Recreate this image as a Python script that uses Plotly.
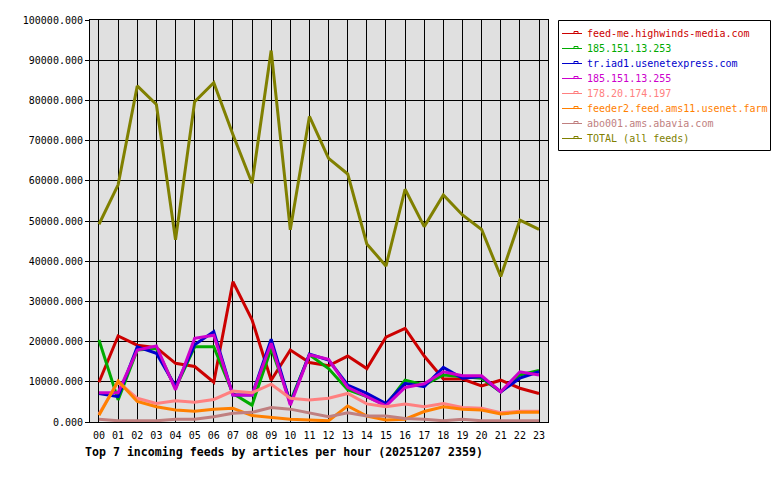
import plotly.graph_objects as go

hours = [f"{h:02d}" for h in range(24)]

feed_me = [9900, 21400, 19100, 18500, 14600, 13800, 9900, 34900, 25400, 10400, 17900, 14800,
           14000, 16400, 13300, 21100, 23300, 16400, 10700, 10700, 9000, 10400, 8400, 7100]
n185_253 = [20400, 5500, 17900, 18300, 8400, 18700, 18700, 7100, 4200, 18300, 5100, 16700,
            13300, 8000, 6300, 4200, 10400, 9200, 11700, 11300, 10900, 7500, 11700, 12800]
tr_iad1 = [7100, 6300, 18700, 17100, 8800, 19200, 22500, 6700, 6700, 20600, 4600, 16900,
           15400, 9200, 7100, 4600, 9600, 8800, 13600, 10900, 11300, 7500, 10900, 12500]
n185_255 = [7300, 7300, 17900, 18900, 8000, 20800, 21600, 6700, 6700, 19600, 4200, 16700,
            15600, 8600, 6300, 4000, 8600, 9500, 12500, 11500, 11500, 7500, 12500, 11700]
n178 = [2000, 10000, 5900, 4600, 5300, 4900, 5600, 7700, 7300, 9400, 5900, 5500,
        5900, 7100, 4500, 3800, 4500, 3800, 4600, 3600, 3400, 2300, 2700, 2700]
feeder2 = [1700, 10200, 5100, 3800, 3000, 2700, 3200, 3400, 1600, 1100, 700, 500,
           300, 4000, 1500, 500, 700, 2600, 3800, 3200, 3000, 2000, 2400, 2400]
abo001 = [700, 300, 300, 300, 700, 700, 1300, 2200, 2400, 3600, 3200, 2200,
          1300, 2300, 1500, 1500, 900, 700, 300, 700, 300, 300, 300, 300]
total = [49200, 59000, 83600, 79000, 45300, 79700, 84400, 71500, 59400, 92400, 47800, 76000,
         65600, 61700, 44300, 38800, 57900, 48600, 56500, 51500, 47900, 36200, 50200, 47900]

names = ["feed-me.highwinds-media.com", "185.151.13.253", "tr.iad1.usenetexpress.com",
         "185.151.13.255", "178.20.174.197", "feeder2.feed.ams11.usenet.farm",
         "abo001.ams.abavia.com", "TOTAL (all feeds)"]
series = [feed_me, n185_253, tr_iad1, n185_255, n178, feeder2, abo001, total]
colors = ["#cc0000", "#00aa00", "#0000cc", "#cc00cc", "#ff8080", "#ff8000", "#c08080", "#808000"]

# plot area in pixels
L, R, T, B = 90, 548, 20, 422
W, H = R - L, B - T


def px(x):
    return (x - L) / W


def py(y):
    return (B - y) / H


x_idx = list(range(24))
fig = go.Figure()
for name, vals, col in zip(names, series, colors):
    fig.add_trace(go.Scatter(x=x_idx, y=vals, mode="lines", name=name,
                             line=dict(color=col, width=3),
                             showlegend=False, hoverinfo="skip"))

font = "DejaVu Sans Mono, Liberation Mono, monospace"

# manual legend
shapes = [dict(type="rect", xref="paper", yref="paper",
               x0=px(558.5), x1=px(770.5), y0=py(20.5), y1=py(150.5),
               line=dict(color="black", width=1), fillcolor="white", layer="above")]
annotations = []
for i, (name, col) in enumerate(zip(names, colors)):
    yc = 33.5 + 15 * i
    shapes.append(dict(type="line", xref="paper", yref="paper",
                       x0=px(562), x1=px(582), y0=py(yc), y1=py(yc),
                       line=dict(color=col, width=1), layer="above"))
    shapes.append(dict(type="rect", xref="paper", yref="paper",
                       x0=px(574), x1=px(578), y0=py(yc), y1=py(yc - 2),
                       line=dict(color=col, width=1), layer="above"))
    annotations.append(dict(text=name, xref="paper", yref="paper", x=px(585), xanchor="left",
                            y=py(yc), yanchor="middle", showarrow=False,
                            font=dict(family=font, size=10, color=col)))

annotations.append(dict(text="<b>Top 7 incoming feeds by articles per hour (20251207 2359)</b>",
                        xref="paper", yref="paper", x=px(83), xanchor="left",
                        y=py(452), yanchor="middle", showarrow=False,
                        font=dict(family=font, size=11.6, color="black")))

fig.update_layout(
    width=780, height=480,
    margin=dict(l=L, r=780 - R, t=T, b=480 - B),
    paper_bgcolor="white", plot_bgcolor="#e0e0e0",
    font=dict(family=font, size=10, color="black"),
    showlegend=False,
    xaxis=dict(range=[-0.47, 23.47], tickmode="array", tickvals=x_idx, ticktext=hours,
               showgrid=True, gridcolor="black", gridwidth=1, zeroline=False,
               showline=True, linecolor="black", linewidth=1, mirror=True, ticks="",
               ticklabelstandoff=4, tickfont=dict(size=10), fixedrange=True),
    yaxis=dict(range=[0, 100000], dtick=10000, tickformat=".3f",
               showgrid=True, gridcolor="black", gridwidth=1, zeroline=False,
               showline=True, linecolor="black", linewidth=1, mirror=True,
               ticks="outside", ticklen=4, tickcolor="black", tickfont=dict(size=10),
               fixedrange=True),
    shapes=shapes,
    annotations=annotations,
)
fig.write_html("out.html")
